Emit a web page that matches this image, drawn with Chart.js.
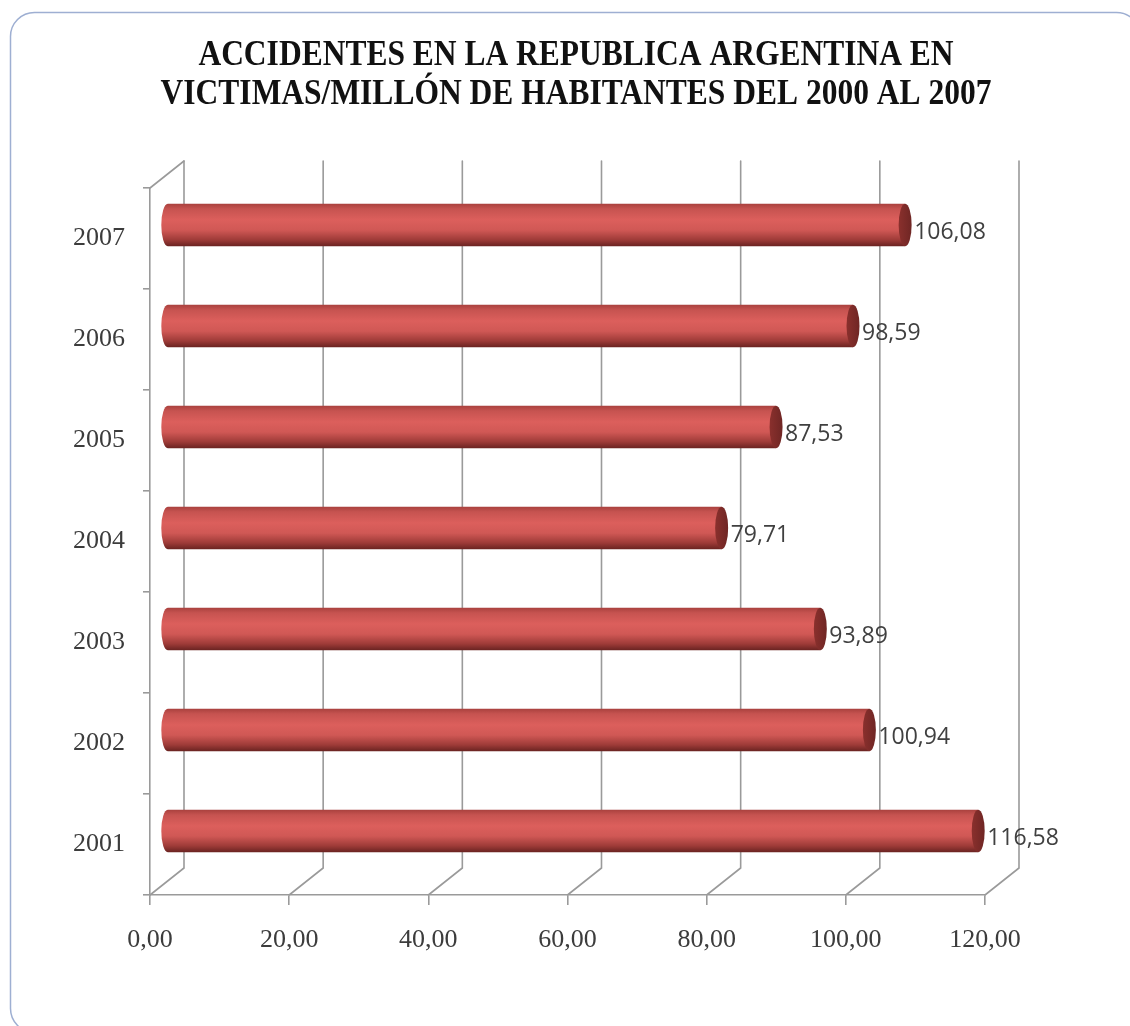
<!DOCTYPE html>
<html lang="es">
<head>
<meta charset="utf-8">
<title>Accidentes en la República Argentina</title>
<script src="https://cdn.jsdelivr.net/npm/chart.js@4/dist/chart.umd.min.js"></script>
<style>
  html, body { margin: 0; padding: 0; background: #ffffff; }
  #wrap { width: 1130px; height: 1026px; position: relative; }
  canvas { display: block; }
</style>
</head>
<body>
<div id="wrap"><canvas id="chart" width="1130" height="1026"></canvas></div>
<script>
// Víctimas por millón de habitantes, por año
const years = ['2001', '2002', '2003', '2004', '2005', '2006', '2007'];
const victimas = [116.58, 100.94, 93.89, 79.71, 87.53, 98.59, 106.08];

// Eje de valores
const xMin = 0;
const xMax = 120;
const xStep = 20;

const titleLines = [
  'ACCIDENTES EN LA REPUBLICA ARGENTINA EN',
  'VICTIMAS/MILLÓN DE HABITANTES DEL 2000 AL 2007'
];

const fmt = v => Number(v).toFixed(2).replace('.', ',');

// Profundidad de la caja 3D (pared del fondo respecto del plano frontal)
const DEPTH_X = 34;
const DEPTH_Y = 27;
const GRID = '#9a9a9a';

const frame3d = {
  id: 'frame3d',
  beforeDraw(chart) {
    const ctx = chart.ctx;
    ctx.save();
    // marco redondeado del gráfico
    ctx.strokeStyle = '#9eafd2';
    ctx.lineWidth = 1.5;
    ctx.beginPath();
    ctx.roundRect(10.5, 12.5, 1130, 1020, 24);
    ctx.stroke();

    // título en dos líneas, tipografía condensada
    ctx.fillStyle = '#111111';
    ctx.font = 'bold 36px "Liberation Serif", "Times New Roman", serif';
    ctx.textAlign = 'center';
    ctx.textBaseline = 'alphabetic';
    const baselines = [65, 104];
    titleLines.forEach((line, i) => {
      ctx.save();
      ctx.translate(576, baselines[i]);
      ctx.scale(0.875, 1);
      ctx.fillText(line, 0, 0);
      ctx.restore();
    });
    ctx.restore();
  },
  beforeDatasetsDraw(chart) {
    const ctx = chart.ctx;
    const xs = chart.scales.x;
    const area = chart.chartArea;
    ctx.save();
    ctx.strokeStyle = GRID;
    ctx.lineWidth = 1.6;
    ctx.lineCap = 'round';
    const topBack = area.top - DEPTH_Y;
    const bottomBack = area.bottom - DEPTH_Y;
    xs.ticks.forEach(t => {
      const xf = xs.getPixelForValue(t.value);
      const xb = xf + DEPTH_X;
      // línea de la pared del fondo
      ctx.beginPath();
      ctx.moveTo(xb, topBack);
      ctx.lineTo(xb, bottomBack);
      // diagonal del piso
      ctx.lineTo(xf, area.bottom);
      ctx.stroke();
    });
    // arista superior de la pared lateral
    const x0 = xs.getPixelForValue(xMin);
    ctx.beginPath();
    ctx.moveTo(x0, area.top);
    ctx.lineTo(x0 + DEPTH_X, topBack);
    ctx.stroke();
    ctx.restore();
  },
  afterDatasetsDraw(chart) {
    const ctx = chart.ctx;
    const meta = chart.getDatasetMeta(0);
    const data = chart.data.datasets[0].data;
    ctx.save();
    meta.data.forEach((bar, i) => {
      const p = bar.getProps(['x', 'y', 'base', 'height'], true);
      const ox = DEPTH_X / 2, oy = -DEPTH_Y / 2;
      const x0 = p.base + ox;
      const x1 = p.x + ox;
      const cy = p.y + oy;
      const h = p.height;
      const top = cy - h / 2, bot = cy + h / 2;
      const rx = 6.5;

      // cuerpo del cilindro
      const g = ctx.createLinearGradient(0, top, 0, bot);
      g.addColorStop(0.00, '#a9413e');
      g.addColorStop(0.12, '#c65350');
      g.addColorStop(0.38, '#dc5f5c');
      g.addColorStop(0.62, '#d05855');
      g.addColorStop(0.85, '#9e3b38');
      g.addColorStop(1.00, '#6a2321');
      ctx.fillStyle = g;
      ctx.beginPath();
      ctx.moveTo(x0, top);
      ctx.lineTo(x1, top);
      ctx.lineTo(x1, bot);
      ctx.lineTo(x0, bot);
      ctx.ellipse(x0, cy, rx, h / 2, 0, Math.PI / 2, Math.PI * 1.5, false);
      ctx.closePath();
      ctx.fill();

      // tapa del extremo
      const gc = ctx.createLinearGradient(x1 - rx, 0, x1 + rx, 0);
      gc.addColorStop(0, '#8a302d');
      gc.addColorStop(1, '#6f2624');
      ctx.fillStyle = gc;
      ctx.beginPath();
      ctx.ellipse(x1, cy, rx, h / 2, 0, 0, Math.PI * 2);
      ctx.fill();

      // etiqueta de valor
      ctx.fillStyle = '#404040';
      ctx.font = '23px "Open Sans", "Liberation Sans", sans-serif';
      ctx.textAlign = 'left';
      ctx.textBaseline = 'middle';
      ctx.fillText(fmt(data[i]), x1 + 9, cy + 7);
    });
    ctx.restore();
  }
};

const serif = { family: '"Liberation Serif", "Times New Roman", serif', size: 26 };

new Chart(document.getElementById('chart'), {
  type: 'bar',
  data: {
    labels: years,
    datasets: [{
      data: victimas,
      backgroundColor: 'rgba(0,0,0,0)',
      borderWidth: 0,
      barPercentage: 0.42,
      categoryPercentage: 1.0
    }]
  },
  options: {
    indexAxis: 'y',
    responsive: false,
    animation: false,
    events: [],
    layout: { padding: { top: 188, right: 145, left: 0, bottom: 0 } },
    plugins: {
      legend: { display: false },
      title: { display: false },
      tooltip: { enabled: false }
    },
    scales: {
      x: {
        type: 'linear',
        min: xMin,
        max: xMax,
        afterFit: s => { s.height = 131; },
        ticks: {
          stepSize: xStep,
          callback: v => fmt(v),
          font: serif,
          color: '#3c3c3c',
          padding: 20,
          maxRotation: 0
        },
        grid: { drawOnChartArea: false, drawTicks: true, tickLength: 10, color: GRID, lineWidth: 1.6 },
        border: { display: true, color: GRID, width: 1.6 }
      },
      y: {
        reverse: true,
        afterFit: s => { s.width = 150; },
        ticks: { font: serif, color: '#3c3c3c', padding: 18 },
        grid: { drawOnChartArea: false, drawTicks: true, tickLength: 7, color: GRID, lineWidth: 1.6, offset: true },
        border: { display: true, color: GRID, width: 1.6 }
      }
    }
  },
  plugins: [frame3d]
});
</script>
</body>
</html>
